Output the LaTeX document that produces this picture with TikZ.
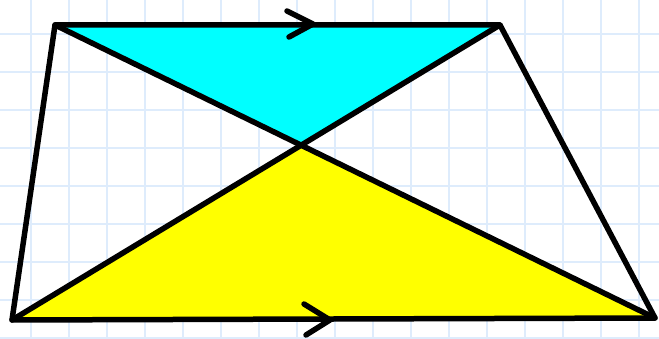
\documentclass[tikz,border=0pt]{standalone}
\definecolor{aqua}{RGB}{0,255,255}
\definecolor{lemon}{RGB}{255,255,0}
\definecolor{gridblue}{RGB}{222,236,252}
\begin{document}
\begin{tikzpicture}[x=1pt,y=-1pt,
  gridline/.style={draw=gridblue,line width=1.6pt},
  edge/.style={draw=black,line width=5.5pt,line cap=round,line join=round},
  chevron/.style={draw=black,line width=5.5pt,line cap=round,line join=round}]
\useasboundingbox (0,0) rectangle (659,339);
\fill[white] (0,0) rectangle (659,339);
\foreach \i in {0,...,17} {\draw[gridline] ({31+38*\i},0) -- ({31+38*\i},339);}
\foreach \j in {0,...,8} {\draw[gridline] (0,{34+38*\j}) -- (659,{34+38*\j});}
\coordinate (A) at (55,25);
\coordinate (B) at (500,25);
\coordinate (C) at (655,318);
\coordinate (D) at (12,320);
\coordinate (O) at (intersection of A--C and B--D);
\fill[aqua] (A) -- (B) -- (O) -- cycle;
\fill[lemon] (D) -- (C) -- (O) -- cycle;
\draw[edge] (A) -- (B) -- (C) -- (D) -- cycle;
\draw[edge] (A) -- (C);
\draw[edge] (B) -- (D);
\coordinate (t1) at (313,24);
\coordinate (b1) at (330,320);
\draw[chevron] ([shift={(-26,-13)}]t1) -- (t1) -- ([shift={(-24,13)}]t1);
\draw[chevron] ([shift={(-26,-16)}]b1) -- (b1) -- ([shift={(-24,15)}]b1);
\end{tikzpicture}
\end{document}
